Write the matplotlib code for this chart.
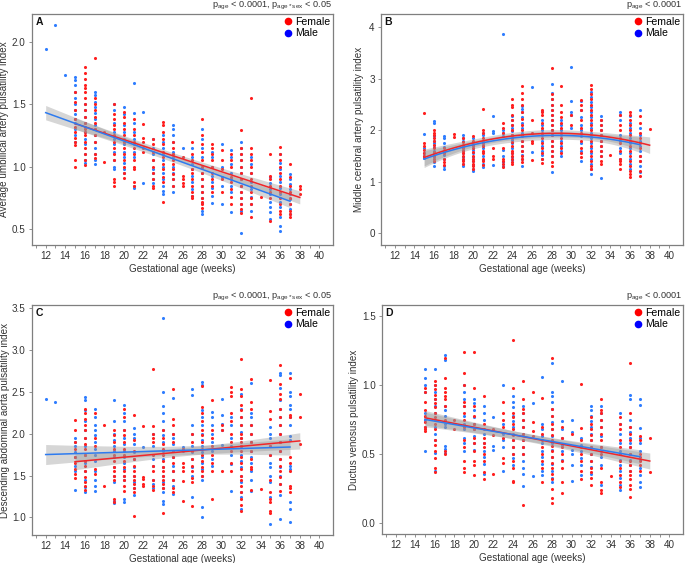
import numpy as np
import matplotlib
matplotlib.use("Agg")
import matplotlib.pyplot as plt
from matplotlib.lines import Line2D

plt.rcParams['font.family'] = ['Liberation Sans', 'DejaVu Sans']
plt.rcParams['mathtext.fontset'] = 'custom'
plt.rcParams['mathtext.rm'] = 'Liberation Sans'
plt.rcParams['mathtext.it'] = 'Liberation Sans'

# ---------------- data ----------------
A_female = {
    15: [1.05, 1.0, 1.17, 1.2, 1.23, 1.28, 1.32, 1.38, 1.45, 1.52, 1.6],
    16: [1.8, 1.75, 1.7, 1.65, 1.63, 1.6, 1.55, 1.5, 1.45, 1.4, 1.35, 1.3, 1.28, 1.25, 1.2, 1.15, 1.1, 1.05, 1.01],
    17: [1.87, 1.55, 1.5, 1.45, 1.4, 1.35, 1.3, 1.25, 1.2, 1.1, 1.07],
    18: [1.28, 1.04],
    19: [1.5, 1.42, 1.38, 1.33, 1.3, 1.25, 1.2, 1.15, 1.1, 1.05, 0.9, 0.88, 0.85],
    20: [1.44, 1.4, 1.35, 1.3, 1.25, 1.2, 1.15, 1.1, 1.05, 1.0, 0.95, 0.91],
    21: [1.38, 1.3, 1.25, 1.2, 1.15, 1.1, 1.05, 1.0, 0.98, 0.88, 0.85],
    22: [1.34, 1.23, 1.2, 1.15, 1.12],
    23: [1.22, 1.18, 1.12, 1.05, 1.0, 0.95, 0.9, 0.85, 0.83],
    24: [1.36, 1.33, 1.28, 1.22, 1.18, 1.12, 1.08, 1.02, 0.98, 0.92, 0.88, 0.72],
    25: [1.2, 1.15, 1.1, 1.05, 1.02, 0.98, 0.94, 0.9, 0.85],
    26: [1.08, 0.93, 0.9, 0.87, 0.85],
    27: [1.2, 1.1, 1.05, 0.98, 0.95, 0.9, 0.85, 0.8, 0.77, 0.75],
    28: [1.38, 1.25, 1.18, 1.12, 1.05, 1.0, 0.95, 0.9, 0.85, 0.8, 0.75, 0.72, 0.7, 0.67],
    29: [1.18, 1.15, 1.1, 1.05, 1.0, 0.95, 0.9, 0.85, 0.8],
    30: [1.13, 1.05, 0.98, 0.9, 0.8],
    31: [1.1, 1.05, 1.0, 0.92, 0.88, 0.82, 0.76, 0.7],
    32: [1.29, 1.15, 1.1, 1.05, 1.0, 0.95, 0.9, 0.85, 0.8, 0.75, 0.7, 0.66, 0.63],
    33: [1.55, 1.15, 1.1, 1.05, 1.0, 0.95, 0.9, 0.85, 0.8, 0.75, 0.7, 0.6],
    34: [0.76],
    35: [1.1, 0.93, 0.9, 0.85, 0.8, 0.75, 0.57],
    36: [1.16, 1.1, 1.05, 1.0, 0.95, 0.9, 0.85, 0.8, 0.75, 0.7, 0.65, 0.62],
    37: [1.02, 0.92, 0.85, 0.8, 0.75, 0.7, 0.65, 0.62, 0.6],
    38: [0.85, 0.82, 0.78],
}
A_male = {
    12: [1.94], 13: [2.13], 14: [1.73],
    15: [1.72, 1.69, 1.65, 1.6, 1.55, 1.5, 1.45, 1.42, 1.38, 1.35, 1.3, 1.25, 1.2],
    16: [1.5, 1.45, 1.4, 1.35, 1.32, 1.28, 1.22, 1.18, 1.1, 1.05, 1.03],
    17: [1.6, 1.57, 1.52, 1.48, 1.43, 1.38, 1.33, 1.3, 1.25, 1.2, 1.15, 1.1, 1.05, 1.02],
    19: [1.5, 1.45, 1.35, 1.28, 1.22, 1.18, 1.12, 1.05, 1.0, 0.98],
    20: [1.48, 1.42, 1.33, 1.28, 1.22, 1.18, 1.12, 1.08, 1.03, 0.98, 0.95],
    21: [1.67, 1.43, 1.35, 1.28, 1.22, 1.18, 1.12, 1.08, 0.85, 0.83],
    22: [1.44, 0.87],
    23: [1.22, 1.15, 1.1, 1.05, 0.98, 0.95, 0.9, 0.87],
    24: [1.25, 1.2, 1.15, 1.1, 1.05, 1.0, 0.95, 0.9, 0.85, 0.81, 0.78],
    25: [1.33, 1.3, 1.25, 1.2, 1.12, 1.08, 1.0, 0.95, 0.9, 0.85, 0.8],
    26: [1.15],
    27: [1.15, 1.08, 1.02, 0.98, 0.93, 0.88, 0.82, 0.77],
    28: [1.3, 1.22, 1.15, 1.08, 1.0, 0.95, 0.9, 0.85, 0.8, 0.75, 0.71, 0.65, 0.62],
    29: [1.12, 1.08, 1.0, 0.93, 0.88, 0.83, 0.77, 0.71],
    30: [1.18, 1.0, 0.92, 0.85, 0.7],
    31: [1.13, 1.08, 1.02, 0.95, 0.9, 0.85, 0.8, 0.64],
    32: [1.2, 1.15, 1.1, 1.05, 1.0, 0.95, 0.9, 0.85, 0.8, 0.75, 0.7, 0.65, 0.47],
    33: [1.08, 1.02, 0.95, 0.88, 0.82, 0.76, 0.7, 0.65],
    35: [0.92, 0.87, 0.82, 0.78, 0.72, 0.68, 0.64, 0.58],
    36: [1.1, 1.03, 0.98, 0.93, 0.88, 0.83, 0.78, 0.72, 0.68, 0.6, 0.53, 0.49],
    37: [0.94, 0.9, 0.86, 0.82, 0.78, 0.74, 0.7, 0.66, 0.62],
}

B_female = {
    15: [2.34, 1.75, 1.7, 1.62, 1.55, 1.5],
    16: [2.0, 1.95, 1.9, 1.85, 1.8, 1.72, 1.65, 1.58, 1.5, 1.45, 1.4],
    17: [1.65, 1.55, 1.45, 1.38, 1.33],
    18: [1.92, 1.86],
    19: [1.85, 1.78, 1.72, 1.65, 1.6, 1.55, 1.5, 1.45, 1.4, 1.35],
    20: [1.88, 1.8, 1.72, 1.65, 1.58, 1.5, 1.45, 1.4, 1.35, 1.3, 1.25],
    21: [2.42, 2.0, 1.95, 1.85, 1.75, 1.7, 1.6, 1.55, 1.45, 1.4, 1.32],
    22: [1.65, 1.5, 1.45],
    23: [2.14, 2.05, 1.95, 1.65, 1.45, 1.4, 1.35, 1.28],
    24: [2.6, 2.5, 2.45, 2.3, 2.2, 2.1, 2.0, 1.9, 1.85, 1.78, 1.7, 1.6, 1.55, 1.5, 1.45, 1.38, 1.35],
    25: [2.87, 2.72, 2.6, 2.5, 2.35, 2.22, 2.1, 2.0, 1.9, 1.8, 1.7, 1.6, 1.5, 1.45, 1.38],
    26: [2.2, 1.95, 1.8, 1.75, 1.42],
    27: [2.4, 2.35, 2.3, 2.15, 2.05, 1.95, 1.85, 1.75, 1.65, 1.55, 1.45, 1.37],
    28: [3.22, 2.7, 2.6, 2.5, 2.4, 2.3, 2.2, 2.1, 2.0, 1.9, 1.8, 1.7, 1.6, 1.5, 1.38, 1.3],
    29: [2.86, 2.5, 2.35, 2.25, 2.15, 2.05, 1.95, 1.85, 1.75, 1.65, 1.55],
    30: [2.3, 2.1],
    31: [2.58, 2.5, 2.4, 2.2, 2.05, 1.95, 1.8, 1.65, 1.55, 1.48],
    32: [2.88, 2.8, 2.7, 2.6, 2.5, 2.4, 2.3, 2.2, 2.1, 2.0, 1.9, 1.8, 1.7, 1.6, 1.5, 1.4, 1.3, 1.25],
    33: [2.2, 2.1, 2.0, 1.9, 1.8, 1.7, 1.6, 1.5, 1.4, 1.35],
    34: [1.51],
    35: [2.3, 2.1, 2.0, 1.85, 1.75, 1.6, 1.45, 1.4, 1.35, 1.25],
    36: [2.35, 2.3, 2.2, 2.1, 2.0, 1.9, 1.8, 1.7, 1.6, 1.5, 1.4, 1.3, 1.2, 1.15, 1.1],
    37: [2.28, 2.15, 1.95, 1.85, 1.75, 1.65, 1.5, 1.4, 1.2, 1.12],
    38: [2.02],
}
B_male = {
    15: [1.92, 1.65, 1.55, 1.5, 1.47],
    16: [2.18, 2.15, 1.88, 1.8, 1.75, 1.68, 1.6, 1.55, 1.48, 1.38, 1.3],
    17: [1.88, 1.85, 1.75, 1.68, 1.6, 1.52, 1.45, 1.3, 1.25],
    19: [1.9, 1.85, 1.8, 1.7, 1.62, 1.55, 1.48, 1.42, 1.35, 1.3],
    20: [1.85, 1.78, 1.7, 1.62, 1.55, 1.48, 1.4, 1.33, 1.25, 1.2],
    21: [1.95, 1.9, 1.8, 1.72, 1.65, 1.58, 1.5, 1.42, 1.35, 1.28],
    22: [2.27, 1.98, 1.95, 1.32],
    23: [3.88, 2.0, 1.95, 1.88, 1.62, 1.5, 1.38, 1.3],
    24: [2.28, 2.2, 2.1, 2.05, 1.98, 1.9, 1.82, 1.75, 1.65, 1.55, 1.48, 1.42],
    25: [2.47, 2.42, 2.35, 2.25, 2.15, 2.05, 1.95, 1.88, 1.8, 1.7, 1.6, 1.52, 1.45, 1.3],
    26: [2.84, 1.57],
    27: [2.38, 2.2, 2.1, 2.0, 1.9, 1.8, 1.7, 1.6, 1.52, 1.45],
    28: [2.9, 2.72, 2.6, 2.5, 2.4, 2.3, 2.2, 2.1, 2.0, 1.9, 1.8, 1.7, 1.6, 1.5, 1.18],
    29: [2.2, 2.1, 2.0, 1.9, 1.8, 1.7, 1.6, 1.5],
    30: [3.23, 2.57, 2.35, 2.3, 2.05],
    31: [2.56, 2.4, 2.25, 2.1, 2.0, 1.88, 1.75, 1.6, 1.4],
    32: [2.75, 2.65, 2.55, 2.45, 2.35, 2.25, 2.15, 2.05, 1.95, 1.85, 1.75, 1.65, 1.55, 1.45, 1.35, 1.25, 1.15],
    33: [2.28, 2.2, 2.1, 2.0, 1.9, 1.8, 1.7, 1.6, 1.5, 1.07],
    35: [2.35, 2.3, 2.2, 1.9, 1.8, 1.65, 1.55, 1.45],
    36: [2.27, 2.15, 2.05, 1.95, 1.85, 1.75, 1.65, 1.55, 1.45, 1.35, 1.25],
    37: [2.4, 2.05, 1.9, 1.8, 1.7, 1.6, 1.5, 1.4, 1.3, 1.18],
}

C_female = {
    15: [2.16, 2.05, 1.9, 1.82, 1.72, 1.65, 1.58, 1.52, 1.47],
    16: [2.3, 2.25, 2.18, 2.1, 2.05, 1.95, 1.88, 1.82, 1.75, 1.68, 1.62, 1.55, 1.48, 1.42, 1.38, 1.33],
    17: [2.25, 1.95, 1.85, 1.58, 1.52],
    18: [2.11, 1.38],
    19: [2.05, 1.98, 1.9, 1.82, 1.75, 1.68, 1.6, 1.55, 1.5, 1.45, 1.22, 1.18],
    20: [2.3, 2.2, 2.05, 1.98, 1.9, 1.82, 1.75, 1.68, 1.6, 1.55, 1.5, 1.45, 1.38, 1.32],
    21: [2.23, 1.92, 1.8, 1.7, 1.62, 1.55, 1.5, 1.45, 1.4, 1.35, 1.3, 1.02],
    22: [2.09, 1.48, 1.46, 1.4, 1.38],
    23: [2.77, 2.09, 2.0, 1.95, 1.9, 1.75, 1.62, 1.55, 1.45, 1.38, 1.33],
    24: [2.05, 1.95, 1.88, 1.82, 1.75, 1.68, 1.6, 1.55, 1.5, 1.45, 1.4, 1.35, 1.05],
    25: [2.53, 2.18, 2.1, 2.0, 1.9, 1.8, 1.72, 1.65, 1.55, 1.45, 1.35, 1.3],
    26: [1.82, 1.65, 1.6, 1.55, 1.44, 1.2],
    27: [2.0, 1.9, 1.8, 1.7, 1.62, 1.55, 1.47, 1.42, 1.14],
    28: [2.57, 2.32, 2.25, 2.15, 2.05, 1.98, 1.9, 1.82, 1.75, 1.68, 1.6, 1.55, 1.5],
    29: [2.41, 2.05, 1.95, 1.85, 1.75, 1.65, 1.55, 1.22],
    30: [2.1, 2.05, 1.56],
    31: [2.56, 2.5, 2.45, 2.25, 2.15, 2.0, 1.9, 1.8, 1.65, 1.55],
    32: [2.9, 2.54, 2.45, 2.35, 2.28, 2.2, 2.1, 2.0, 1.95, 1.9, 1.85, 1.8, 1.72, 1.65, 1.58, 1.5, 1.45, 1.38, 1.3, 1.22, 1.15, 1.08],
    33: [2.66, 2.38, 2.3, 2.1, 2.0, 1.9, 1.8, 1.7, 1.6, 1.58, 1.33],
    34: [1.34],
    35: [2.64, 2.27, 2.18, 1.85, 1.75, 1.45, 1.3, 1.22, 1.18, 1.08, 1.05],
    36: [2.82, 2.6, 2.48, 2.42, 2.3, 2.2, 2.1, 2.0, 1.9, 1.8, 1.7, 1.62, 1.55, 1.48, 1.4, 1.32],
    37: [2.67, 2.22, 2.2, 1.72, 1.65, 1.55, 1.37, 1.35, 1.3],
    38: [2.48, 2.2, 1.88],
}
C_male = {
    12: [2.42], 13: [2.38],
    15: [1.95, 1.9, 1.85, 1.78, 1.72, 1.62, 1.55, 1.33],
    16: [2.44, 2.4, 2.28, 2.15, 2.05, 1.95, 1.85, 1.75, 1.65, 1.55, 1.45, 1.36, 1.31],
    17: [2.3, 2.2, 2.1, 2.05, 1.98, 1.9, 1.82, 1.75, 1.68, 1.55, 1.45, 1.38, 1.32],
    19: [2.4, 2.15, 2.0, 1.92, 1.85, 1.8, 1.72, 1.6, 1.5, 1.42, 1.2, 1.17],
    20: [2.35, 2.25, 2.15, 2.05, 1.95, 1.88, 1.8, 1.72, 1.65, 1.58, 1.5, 1.45, 1.22, 1.19],
    21: [2.07, 2.0, 1.95, 1.88, 1.78, 1.7, 1.6, 1.5, 1.42, 1.35, 1.27],
    22: [1.84],
    23: [2.0, 1.85, 1.7, 1.62, 1.45, 1.4, 1.35],
    24: [3.39, 2.5, 2.33, 2.25, 2.15, 2.05, 1.98, 1.9, 1.8, 1.7, 1.6, 1.5, 1.42, 1.35, 1.3, 1.2, 1.16],
    25: [2.43, 2.0, 1.95, 1.88, 1.8, 1.72, 1.62, 1.55, 1.45, 1.38, 1.28],
    26: [1.84, 1.8],
    27: [2.53, 2.46, 2.1, 2.0, 1.85, 1.78, 1.7, 1.6, 1.5, 1.25],
    28: [2.62, 2.58, 2.28, 2.2, 2.1, 2.0, 1.92, 1.85, 1.78, 1.72, 1.65, 1.58, 1.5, 1.45, 1.12, 1.0],
    29: [2.26, 2.2, 2.1, 2.0, 1.9, 1.8, 1.7, 1.62],
    30: [2.42, 2.23, 2.12, 2.05, 1.87],
    31: [2.2, 2.1, 1.95, 1.85, 1.75, 1.64, 1.32],
    32: [2.48, 2.3, 2.2, 2.1, 2.02, 1.95, 1.85, 1.75, 1.68, 1.6, 1.5, 1.42, 1.3, 1.24, 1.1],
    33: [2.61, 2.25, 2.2, 2.1, 2.0, 1.9, 1.8, 1.72, 1.65, 1.55, 1.45, 1.32],
    35: [2.08, 2.0, 1.95, 1.85, 1.75, 1.65, 1.6, 1.5, 1.42, 1.25, 0.92],
    36: [2.73, 2.7, 2.55, 2.4, 2.3, 2.2, 2.1, 2.0, 1.9, 1.8, 1.7, 1.6, 1.5, 1.4, 1.27, 0.98],
    37: [2.73, 2.5, 2.45, 2.35, 2.3, 2.2, 2.1, 1.97, 1.92, 1.62, 1.58, 1.18, 1.1, 0.95],
}

D_female = {
    15: [0.98, 0.95, 0.88, 0.82, 0.78, 0.73, 0.7, 0.68, 0.67],
    16: [1.03, 1.0, 0.97, 0.93, 0.9, 0.87, 0.84, 0.8, 0.77, 0.72, 0.68, 0.6, 0.57, 0.52, 0.47, 0.4, 0.37],
    17: [1.2, 1.05, 0.98, 0.95, 0.92, 0.9, 0.85, 0.75, 0.52, 0.5],
    18: [0.75, 0.68],
    19: [1.24, 1.09, 1.0, 0.88, 0.85, 0.8, 0.75, 0.7, 0.6, 0.55, 0.45, 0.4, 0.37],
    20: [1.24, 0.98, 0.85, 0.78, 0.72, 0.68, 0.62, 0.58, 0.52, 0.45, 0.42, 0.35],
    21: [0.92, 0.72, 0.68, 0.62, 0.58, 0.55, 0.5, 0.45, 0.37, 0.32],
    22: [0.68, 0.64, 0.36],
    23: [0.88, 0.8, 0.75, 0.7, 0.62, 0.47, 0.44],
    24: [1.33, 0.98, 0.8, 0.77, 0.72, 0.68, 0.64, 0.6, 0.55, 0.5, 0.45, 0.4, 0.31, 0.3],
    25: [1.03, 0.9, 0.83, 0.8, 0.75, 0.7, 0.65, 0.6, 0.55, 0.5, 0.13],
    26: [0.95, 0.73, 0.67, 0.63],
    27: [0.91, 0.7, 0.65, 0.6, 0.55, 0.5, 0.45, 0.4, 0.3],
    28: [1.2, 0.83, 0.78, 0.72, 0.68, 0.64, 0.6, 0.56, 0.52, 0.48, 0.44, 0.4, 0.36, 0.32, 0.25, 0.18, 0.15],
    29: [0.7, 0.62, 0.55, 0.5, 0.45, 0.4, 0.3, 0.22],
    30: [0.65],
    31: [1.01, 0.69, 0.6, 0.55, 0.5, 0.45, 0.38, 0.32],
    32: [0.77, 0.72, 0.68, 0.64, 0.6, 0.55, 0.5, 0.45, 0.4, 0.37, 0.33, 0.28],
    33: [0.9, 0.82, 0.8, 0.75, 0.7, 0.65, 0.6, 0.55, 0.5, 0.4, 0.3, 0.24, 0.22],
    34: [0.34],
    35: [0.77, 0.72, 0.68, 0.6, 0.55, 0.5, 0.45, 0.4, 0.35, 0.3, 0.26],
    36: [1.16, 0.8, 0.7, 0.65, 0.6, 0.55, 0.5, 0.45, 0.42, 0.38, 0.35, 0.32, 0.28, 0.25, 0.19],
    37: [0.63, 0.6, 0.5, 0.48, 0.45, 0.42, 0.38],
    38: [0.62, 0.37],
}
D_male = {
    15: [1.12, 1.05, 1.0, 0.95, 0.8, 0.75, 0.7, 0.52],
    16: [1.12, 1.0, 0.95, 0.9, 0.85, 0.8, 0.75, 0.7, 0.65, 0.6, 0.51, 0.38],
    17: [1.22, 1.18, 0.85, 0.82, 0.78, 0.72, 0.7, 0.56, 0.54, 0.51],
    19: [1.0, 0.95, 0.9, 0.85, 0.78, 0.72, 0.68, 0.62, 0.58, 0.52],
    20: [0.9, 0.87, 0.82, 0.77, 0.72, 0.68, 0.63, 0.58, 0.53],
    21: [0.85, 0.8, 0.75, 0.65, 0.58, 0.52, 0.48, 0.43, 0.36],
    22: [0.77, 0.56, 0.53],
    23: [1.0, 0.72, 0.65, 0.6, 0.55, 0.38],
    24: [0.92, 0.88, 0.84, 0.78, 0.74, 0.7, 0.65, 0.6, 0.55, 0.5, 0.47, 0.42],
    25: [0.85, 0.8, 0.75, 0.7, 0.65, 0.6, 0.55, 0.5, 0.45, 0.4, 0.36, 0.27],
    26: [0.87, 0.34],
    27: [1.06, 0.72, 0.68, 0.63, 0.58, 0.52, 0.48, 0.43, 0.38, 0.35],
    28: [1.16, 0.95, 0.92, 0.88, 0.83, 0.78, 0.73, 0.68, 0.63, 0.58, 0.53, 0.48, 0.43, 0.38, 0.33, 0.3],
    29: [1.03, 0.74, 0.68, 0.62, 0.57, 0.52, 0.46],
    30: [0.75, 0.66, 0.53, 0.5, 0.42, 0.31],
    31: [0.62, 0.57, 0.52, 0.47, 0.42, 0.35],
    32: [0.85, 0.82, 0.78, 0.74, 0.7, 0.65, 0.6, 0.55, 0.5, 0.45, 0.41, 0.36],
    33: [0.85, 0.8, 0.75, 0.7, 0.63, 0.55, 0.52, 0.48, 0.42, 0.28],
    35: [0.8, 0.72, 0.65, 0.58, 0.52, 0.46, 0.42, 0.38, 0.33, 0.28, 0.24],
    36: [0.93, 0.9, 0.75, 0.7, 0.66, 0.62, 0.58, 0.55, 0.5, 0.46, 0.42, 0.38],
    37: [0.9, 0.86, 0.69, 0.62, 0.58, 0.52, 0.46, 0.4, 0.35, 0.3, 0.26],
}

# fitted-curve values: {week: fitted value}
A_fit_female = {15: 1.345, 38: 0.755}
A_fit_male = {12: 1.432, 37: 0.725}
B_fit_female = {15: 1.47, 28: 1.94, 38: 1.71}
B_fit_male = {15: 1.44, 28: 1.90, 37: 1.72}
C_fit_female = {15: 1.666, 38: 1.915}
C_fit_male = {12: 1.752, 37: 1.842}
D_fit_female = {15: 0.764, 38: 0.451}
D_fit_male = {15: 0.752, 37: 0.482}

ylabels = ["Average umbilical artery pulsatility index",
           "Middle cerebral artery pulsatility index",
           "Descending abdominal aorta pulsatility index",
           "Ductus venosus pulsatility index"]
panel_letters = ["A", "B", "C", "D"]
p_texts = [r"p$_{\mathrm{age}}$ < 0.0001, p$_{\mathrm{age*sex}}$ < 0.05",
           r"p$_{\mathrm{age}}$ < 0.0001",
           r"p$_{\mathrm{age}}$ < 0.0001, p$_{\mathrm{age*sex}}$ < 0.05",
           r"p$_{\mathrm{age}}$ < 0.0001"]
fit_degree = [1, 2, 1, 1]
x_ticks = list(range(12, 41, 2))
y_ticks = [[0.5, 1.0, 1.5, 2.0], [0, 1, 2, 3, 4],
           [1.0, 1.5, 2.0, 2.5, 3.0, 3.5], [0.0, 0.5, 1.0, 1.5]]
y_ticklabels = [["0.5", "1.0", "1.5", "2.0"], ["0", "1", "2", "3", "4"],
                ["1.0", "1.5", "2.0", "2.5", "3.0", "3.5"], ["0.0", "0.5", "1.0", "1.5"]]
y_lims = [(0.375, 2.22), (-0.23, 4.26), (0.79, 3.54), (-0.077, 1.58)]

# ---------------- styling ----------------
F_PT = "#FF1F1F"
M_PT = "#2F7DFF"
F_LINE = "#F0262A"
M_LINE = "#2E7BEF"
FRAME = "#7F7F7F"
TXT = "#333333"
FS = 7.1


def flatten(d):
    xs, ys = [], []
    for k, vals in d.items():
        xs += [k] * len(vals)
        ys += vals
    return np.array(xs, float), np.array(ys, float)


def band_se(x, y, deg, xg):
    # standard error of the fitted mean (shape of the confidence band)
    X = np.vander(x, deg + 1)
    beta, *_ = np.linalg.lstsq(X, y, rcond=None)
    resid = y - X @ beta
    s2 = resid @ resid / (len(y) - deg - 1)
    cov = s2 * np.linalg.inv(X.T @ X)
    Xg = np.vander(xg, deg + 1)
    return np.sqrt(np.einsum("ij,jk,ik->i", Xg, cov, Xg))


fig = plt.figure(figsize=(6.85, 5.63), dpi=100)
W, H = 685, 563
boxes = [(32, 14, 333, 245), (381, 14, 683, 245),
         (32, 305, 333, 535), (382, 305, 683, 534)]
ylabel_x = [-0.075, -0.055, -0.073, -0.078]
datasets = [(A_female, A_male), (B_female, B_male),
            (C_female, C_male), (D_female, D_male)]
fits = [(A_fit_female, A_fit_male), (B_fit_female, B_fit_male),
        (C_fit_female, C_fit_male), (D_fit_female, D_fit_male)]

for i in range(4):
    l, t, r, b = boxes[i]
    ax = fig.add_axes([l / W, (H - b) / H, (r - l) / W, (b - t) / H])
    fem, mal = datasets[i]
    xf, yf = flatten(fem)
    xm, ym = flatten(mal)
    ax.scatter(xm, ym, s=5, color=M_PT, linewidths=0, zorder=2)
    ax.scatter(xf, yf, s=5, color=F_PT, linewidths=0, zorder=2)
    for (xx, yy, fit, col) in [(xf, yf, fits[i][0], F_LINE),
                               (xm, ym, fits[i][1], M_LINE)]:
        kx = np.array(list(fit.keys()), float)
        ky = np.array(list(fit.values()), float)
        coef = np.polyfit(kx, ky, fit_degree[i])
        xg = np.linspace(kx.min(), kx.max(), 100)
        yg = np.polyval(coef, xg)
        se = band_se(xx, yy, fit_degree[i], xg)
        ax.fill_between(xg, yg - 1.97 * se, yg + 1.97 * se, color="#999999",
                        alpha=0.4, linewidth=0, zorder=3)
        ax.plot(xg, yg, color=col, lw=1.1, zorder=4)

    ax.set_xlim(10.6, 41.4)
    ax.set_ylim(*y_lims[i])
    ax.set_xticks(x_ticks)
    ax.set_xticks(range(11, 41, 2), minor=True)
    ax.set_yticks(y_ticks[i])
    ax.set_yticklabels(y_ticklabels[i])
    ax.tick_params(axis="both", which="both", length=2.5, width=0.6,
                   color=FRAME, labelsize=FS, labelcolor=TXT, pad=2)
    for sp in ax.spines.values():
        sp.set_color(FRAME)
        sp.set_linewidth(0.9)
    ax.set_xlabel("Gestational age (weeks)", fontsize=FS, color=TXT, labelpad=2)
    ax.set_ylabel(ylabels[i], fontsize=FS, color=TXT)
    ax.yaxis.set_label_coords(ylabel_x[i], 0.5)
    ax.text(0.012, 0.985, panel_letters[i], transform=ax.transAxes,
            fontsize=7.5, fontweight="bold", va="top", ha="left", color="#111111")
    ax.text(0.995, 1.0 + 6.3 / (b - t), p_texts[i], transform=ax.transAxes,
            fontsize=6.6, va="baseline", ha="right", color=TXT)
    handles = [Line2D([], [], marker="o", ls="", color="red", markersize=4.5),
               Line2D([], [], marker="o", ls="", color="blue", markersize=4.5)]
    ax.legend(handles, ["Female", "Male"], loc="upper right", frameon=False,
              fontsize=7.6, handletextpad=0.1, borderaxespad=0.2,
              labelspacing=0.1, handlelength=1.0, borderpad=0.1)

fig.savefig("out.png", dpi=100)
